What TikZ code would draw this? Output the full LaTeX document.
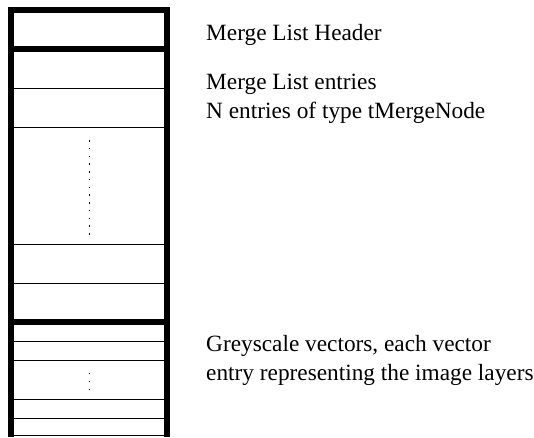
\documentclass[tikz,border=0pt]{standalone}
\usepackage{fontspec}
\setmainfont{Liberation Serif}
\begin{document}
\begin{tikzpicture}[x=1pt,y=-1pt,
  thick rule/.style={line width=6pt,line cap=butt},
  thin rule/.style={line width=1pt},
  label text/.style={anchor=base west,inner sep=0pt,align=left,font=\fontsize{23.3}{29}\selectfont}]
\useasboundingbox (0,0) rectangle (534,437);
% outer verticals
\draw[thick rule] (11,7.3) -- (11,437);
\draw[thick rule] (167,7.3) -- (167,437);
% thick horizontals
\foreach \y in {10.3,49,321.5}
  \draw[thick rule] (8,\y) -- (170,\y);
% thin horizontals
\foreach \y in {88.3,127,244,283,341,360.3,399.3,418.7,435}
  \draw[thin rule] (14,\y) -- (164,\y);
% dots
\foreach \y in {140,147.75,...,234}
  \fill (88.7,\y) rectangle +(1.5,1.5);
\foreach \y in {372.7,380.7,388.7}
  \fill (88.7,\y) rectangle +(1.5,1.5);
% labels
\node[label text] (hdr) at (206,40) {Merge List Header};
\node[label text] (ent) at (206,118) {Merge List entries\\N entries of type tMergeNode};
\node[label text] (grey) at (206,380) {Greyscale vectors, each vector\\entry representing the image layers};
\end{tikzpicture}
\end{document}
